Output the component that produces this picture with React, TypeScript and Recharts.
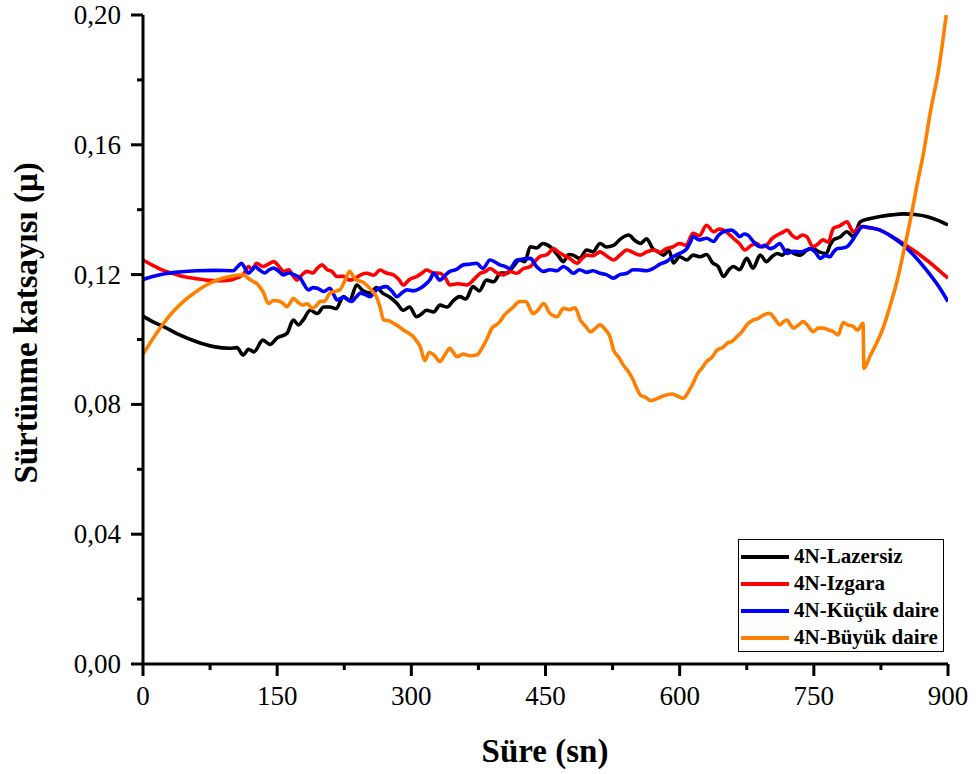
import React from 'react';
import { LineChart, Line, XAxis, YAxis, Legend } from 'recharts';

// time (sn) / friction coefficient pairs
const lazersiz: [number, number][] = [
  [0, 0.1072], [10, 0.1056], [23, 0.104], [41, 0.1014], [60, 0.0993], [79, 0.0978], [97, 0.0973], [105, 0.0975],
  [112, 0.0952], [118, 0.097], [124, 0.0962], [134, 0.0998], [142, 0.0985], [150, 0.1005], [161, 0.1019], [168, 0.106],
  [174, 0.1045], [179, 0.106], [187, 0.109], [195, 0.108], [202, 0.11], [209, 0.11], [216, 0.1095], [224, 0.1132],
  [231, 0.112], [239, 0.1168], [246, 0.115], [254, 0.1143], [261, 0.116], [268, 0.1143], [276, 0.113], [284, 0.1111],
  [291, 0.109], [298, 0.11], [306, 0.107], [311, 0.1078], [317, 0.109], [325, 0.1085], [332, 0.1106], [340, 0.11],
  [347, 0.112], [354, 0.1132], [361, 0.1125], [369, 0.1163], [376, 0.115], [384, 0.1183], [392, 0.1178], [400, 0.1205],
  [407, 0.1204], [414, 0.1225], [421, 0.1245], [427, 0.124], [433, 0.1286], [440, 0.1282], [447, 0.1296], [453, 0.129],
  [459, 0.1276], [465, 0.1255], [470, 0.124], [476, 0.1262], [481, 0.126], [488, 0.125], [496, 0.1276], [503, 0.127],
  [511, 0.1296], [518, 0.1285], [526, 0.129], [534, 0.131], [543, 0.1322], [550, 0.1305], [556, 0.1296], [563, 0.131],
  [570, 0.128], [576, 0.127], [582, 0.126], [588, 0.1275], [593, 0.1236], [600, 0.1255], [608, 0.1245], [615, 0.126],
  [623, 0.1255], [630, 0.1262], [637, 0.1236], [643, 0.1225], [649, 0.1194], [655, 0.1215], [660, 0.1225], [667, 0.1215],
  [675, 0.125], [682, 0.122], [690, 0.126], [697, 0.124], [703, 0.1255], [709, 0.1265], [715, 0.126], [720, 0.1276],
  [728, 0.1265], [735, 0.126], [742, 0.1275], [749, 0.128], [756, 0.127], [764, 0.1265], [768, 0.129], [772, 0.1307],
  [779, 0.1315], [787, 0.1332], [794, 0.1317], [802, 0.1363], [812, 0.1372], [824, 0.1379], [837, 0.1384], [850, 0.1387],
  [863, 0.1385], [876, 0.1379], [888, 0.1368], [900, 0.1353],
];

const izgara: [number, number][] = [
  [0, 0.1245], [10, 0.123], [22, 0.1214], [34, 0.1203], [45, 0.1194], [58, 0.1188], [71, 0.1183], [84, 0.1181],
  [97, 0.1183], [105, 0.119], [112, 0.12], [118, 0.1225], [122, 0.1215], [127, 0.1235], [134, 0.1225], [140, 0.1232],
  [146, 0.124], [152, 0.1225], [157, 0.121], [163, 0.1215], [168, 0.1195], [172, 0.1183], [178, 0.12], [183, 0.121],
  [190, 0.1205], [195, 0.122], [200, 0.123], [206, 0.1215], [211, 0.121], [217, 0.1194], [224, 0.1195], [231, 0.1183],
  [238, 0.119], [244, 0.12], [250, 0.1204], [258, 0.1198], [265, 0.1214], [272, 0.1205], [280, 0.1199], [286, 0.1185],
  [291, 0.1168], [298, 0.1185], [306, 0.1194], [312, 0.1205], [317, 0.1214], [325, 0.1205], [332, 0.1204], [338, 0.119],
  [343, 0.1168], [352, 0.1172], [362, 0.1168], [370, 0.1185], [377, 0.1204], [383, 0.121], [388, 0.1219], [396, 0.1205],
  [403, 0.1199], [410, 0.121], [418, 0.1204], [425, 0.1218], [433, 0.1225], [438, 0.124], [444, 0.1256], [452, 0.1262],
  [459, 0.128], [465, 0.1268], [470, 0.126], [478, 0.1248], [485, 0.1235], [491, 0.125], [496, 0.126], [503, 0.1258],
  [511, 0.127], [518, 0.1258], [526, 0.1245], [534, 0.1262], [541, 0.1276], [548, 0.1268], [556, 0.126], [563, 0.127],
  [571, 0.1276], [578, 0.1268], [585, 0.128], [592, 0.1285], [600, 0.1296], [607, 0.129], [615, 0.1327], [622, 0.132],
  [630, 0.1352], [638, 0.1332], [644, 0.134], [649, 0.1337], [655, 0.1325], [660, 0.1312], [667, 0.1295], [673, 0.1276],
  [680, 0.129], [686, 0.1296], [692, 0.1285], [697, 0.129], [703, 0.131], [709, 0.1322], [715, 0.133], [720, 0.1337],
  [726, 0.132], [731, 0.1312], [737, 0.1322], [742, 0.1317], [749, 0.1286], [755, 0.1295], [760, 0.1307], [766, 0.13],
  [772, 0.1343], [779, 0.135], [787, 0.1363], [794, 0.1332], [803, 0.1348], [812, 0.1344], [824, 0.1337], [837, 0.1318],
  [850, 0.1296], [863, 0.1272], [876, 0.1245], [888, 0.1218], [900, 0.1189],
];

const kucukDaire: [number, number][] = [
  [0, 0.1185], [12, 0.1195], [23, 0.1202], [40, 0.1208], [60, 0.1212], [80, 0.1213], [101, 0.1212], [106, 0.1225],
  [110, 0.1235], [114, 0.122], [118, 0.1204], [122, 0.1215], [125, 0.1225], [130, 0.1215], [136, 0.1205], [141, 0.1215],
  [146, 0.122], [152, 0.121], [157, 0.1199], [163, 0.1205], [170, 0.1198], [176, 0.1189], [180, 0.117], [185, 0.1153],
  [190, 0.116], [195, 0.1158], [202, 0.1148], [209, 0.1158], [213, 0.114], [217, 0.1122], [224, 0.113], [228, 0.1125],
  [233, 0.1117], [238, 0.113], [243, 0.1143], [249, 0.1138], [254, 0.1132], [261, 0.1153], [266, 0.116], [272, 0.1163],
  [278, 0.115], [284, 0.1132], [290, 0.1145], [295, 0.1153], [302, 0.115], [310, 0.1158], [317, 0.1173], [321, 0.1185],
  [325, 0.1204], [332, 0.1183], [337, 0.1195], [343, 0.121], [350, 0.1215], [358, 0.123], [365, 0.1232], [373, 0.1235],
  [380, 0.1219], [388, 0.1245], [394, 0.1238], [399, 0.123], [405, 0.1225], [410, 0.1219], [418, 0.1245], [425, 0.1248],
  [433, 0.125], [440, 0.1225], [448, 0.121], [455, 0.1215], [463, 0.1212], [470, 0.1225], [476, 0.1215], [481, 0.1204],
  [488, 0.1215], [496, 0.1207], [503, 0.1212], [511, 0.1204], [518, 0.12], [526, 0.1189], [533, 0.12], [541, 0.1204],
  [548, 0.1215], [556, 0.1214], [563, 0.1212], [571, 0.122], [578, 0.1232], [585, 0.124], [590, 0.125], [596, 0.126],
  [602, 0.1268], [608, 0.128], [612, 0.13], [615, 0.1317], [622, 0.1307], [630, 0.1312], [638, 0.1302], [643, 0.132],
  [649, 0.1332], [658, 0.1337], [663, 0.1328], [667, 0.1317], [672, 0.1325], [676, 0.1322], [683, 0.13], [690, 0.1286],
  [695, 0.129], [701, 0.128], [706, 0.1285], [712, 0.1296], [716, 0.128], [720, 0.1265], [727, 0.1272], [735, 0.127],
  [741, 0.1275], [746, 0.128], [752, 0.1268], [757, 0.125], [763, 0.1258], [768, 0.1255], [772, 0.127], [776, 0.128],
  [782, 0.1282], [787, 0.1286], [793, 0.1305], [798, 0.1327], [805, 0.1348], [812, 0.1345], [824, 0.1337], [837, 0.1317],
  [850, 0.1291], [863, 0.1256], [876, 0.1214], [888, 0.117], [900, 0.1117],
];

const buyukDaire: [number, number][] = [
  [0, 0.0955], [10, 0.0998], [23, 0.105], [34, 0.1087], [45, 0.1117], [58, 0.1145], [71, 0.1168], [84, 0.1184],
  [97, 0.1194], [105, 0.1198], [112, 0.1199], [118, 0.1188], [122, 0.118], [127, 0.1173], [131, 0.116], [135, 0.1143],
  [140, 0.1111], [146, 0.112], [153, 0.1117], [157, 0.111], [161, 0.1101], [165, 0.1115], [168, 0.1127], [173, 0.1115],
  [179, 0.1106], [184, 0.111], [189, 0.1096], [194, 0.1105], [198, 0.1117], [203, 0.1118], [209, 0.1143], [214, 0.1148],
  [220, 0.1153], [226, 0.1183], [231, 0.121], [235, 0.1195], [239, 0.1183], [245, 0.1178], [250, 0.1168], [256, 0.115],
  [261, 0.1132], [265, 0.11], [269, 0.106], [275, 0.1058], [280, 0.105], [286, 0.104], [291, 0.1029], [297, 0.102],
  [302, 0.1009], [306, 0.0995], [310, 0.0978], [315, 0.0935], [320, 0.096], [326, 0.095], [332, 0.0932], [338, 0.0955],
  [343, 0.0973], [347, 0.096], [351, 0.0947], [358, 0.0955], [365, 0.095], [373, 0.0952], [380, 0.0978], [385, 0.1005],
  [390, 0.1035], [395, 0.1045], [399, 0.1055], [404, 0.1075], [408, 0.1086], [414, 0.11], [421, 0.1117], [428, 0.1117],
  [436, 0.108], [442, 0.1092], [448, 0.1111], [455, 0.108], [463, 0.107], [470, 0.1096], [477, 0.1092], [483, 0.1098],
  [489, 0.106], [495, 0.104], [500, 0.1024], [506, 0.1035], [511, 0.1045], [517, 0.103], [522, 0.1009], [526, 0.0968],
  [532, 0.0945], [537, 0.0921], [543, 0.09], [548, 0.0875], [552, 0.085], [556, 0.0829], [563, 0.082], [567, 0.0812],
  [571, 0.0814], [578, 0.0822], [585, 0.0829], [592, 0.0832], [598, 0.0825], [604, 0.0819], [610, 0.084], [615, 0.0865],
  [620, 0.0895], [625, 0.0912], [630, 0.0932], [636, 0.0945], [642, 0.0968], [648, 0.0975], [653, 0.0988], [659, 0.0995],
  [664, 0.1009], [670, 0.1025], [675, 0.1045], [682, 0.106], [688, 0.1065], [694, 0.1076], [701, 0.108], [706, 0.1065],
  [712, 0.1045], [716, 0.1055], [720, 0.106], [724, 0.1045], [727, 0.1035], [733, 0.1045], [738, 0.1055], [744, 0.104],
  [749, 0.1024], [755, 0.1035], [760, 0.1035], [766, 0.103], [772, 0.1024], [777, 0.1014], [783, 0.1052], [788, 0.1045],
  [794, 0.104], [799, 0.1029], [805, 0.105], [806, 0.0911], [813, 0.095], [820, 0.0988], [828, 0.104], [835, 0.1101],
  [843, 0.118], [850, 0.1265], [858, 0.137], [865, 0.1471], [873, 0.158], [880, 0.1697], [890, 0.184], [898, 0.2],
];

const xTicks = [0, 75, 150, 225, 300, 375, 450, 525, 600, 675, 750, 825, 900];
const yTicks = [0, 0.02, 0.04, 0.06, 0.08, 0.1, 0.12, 0.14, 0.16, 0.18, 0.2];

const series = [
  { name: '4N-Lazersiz', color: '#000000', data: lazersiz },
  { name: '4N-Izgara', color: '#ff0000', data: izgara },
  { name: '4N-Küçük daire', color: '#0000ff', data: kucukDaire },
  { name: '4N-Büyük daire', color: '#ff8000', data: buyukDaire },
];

const FONT = "'Liberation Serif', 'Times New Roman', serif";

const toPoints = (arr: [number, number][]) => arr.map(([t, v]) => ({ t, v }));

const XTick = (props: any) => {
  const { x, y, payload } = props;
  const major = payload.value % 150 === 0;
  return (
    <g>
      <line x1={x} x2={x} y1={y} y2={y + (major ? 12 : 6)} stroke="#000" strokeWidth={3} />
      {major && (
        <text x={x} y={y + 41} textAnchor="middle" fontSize={27} fontFamily={FONT} fill="#000">
          {payload.value}
        </text>
      )}
    </g>
  );
};

const YTick = (props: any) => {
  const { x, y, payload } = props;
  const major = Math.round(payload.value * 100) % 4 === 0;
  return (
    <g>
      <line x1={x - (major ? 12 : 6)} x2={x} y1={y} y2={y} stroke="#000" strokeWidth={3} />
      {major && (
        <text x={x - 22} y={y + 9} textAnchor="end" fontSize={27} fontFamily={FONT} fill="#000">
          {payload.value.toFixed(2).replace('.', ',')}
        </text>
      )}
    </g>
  );
};

const renderLegend = () => (
  <div
    style={{
      border: '1.5px solid #000',
      width: 206,
      height: 113,
      boxSizing: 'border-box',
      background: '#fff',
      paddingTop: 3,
      paddingLeft: 2,
    }}
  >
    {series.map((s) => (
      <div key={s.name} style={{ display: 'flex', alignItems: 'center', height: 27 }}>
        <div style={{ width: 48, height: 4, background: s.color, marginRight: 5 }} />
        <span style={{ fontFamily: FONT, fontWeight: 'bold', fontSize: 21, color: '#000', lineHeight: '27px' }}>
          {s.name}
        </span>
      </div>
    ))}
  </div>
);

const App = () => {
  return (
    <div style={{ position: 'absolute', left: 0, top: 0, width: 976, height: 774, background: '#fff' }}>
      <LineChart width={976} height={774} margin={{ top: 15, right: 28, bottom: 0, left: 0 }}>
        <XAxis
          type="number"
          dataKey="t"
          domain={[0, 900]}
          ticks={xTicks}
          interval={0}
          allowDataOverflow
          height={110}
          tickSize={0}
          tickMargin={0}
          tickLine={false}
          tick={<XTick />}
          axisLine={{ stroke: '#000', strokeWidth: 3 }}
          label={() => (
            <text x={545} y={762} textAnchor="middle" fontSize={33} fontWeight="bold" fontFamily={FONT} fill="#000">
              Süre (sn)
            </text>
          )}
        />
        <YAxis
          type="number"
          domain={[0, 0.2]}
          ticks={yTicks}
          interval={0}
          allowDataOverflow
          width={143}
          tickSize={0}
          tickMargin={0}
          tickLine={false}
          tick={<YTick />}
          axisLine={{ stroke: '#000', strokeWidth: 3 }}
          label={() => (
            <text
              transform="translate(37,323) rotate(-90)"
              textAnchor="middle"
              fontSize={33}
              fontWeight="bold"
              fontFamily={FONT}
              fill="#000"
            >
              Sürtünme katsayısı (μ)
            </text>
          )}
        />
        <Legend
          layout="vertical"
          align="center"
          verticalAlign="middle"
          content={renderLegend}
          wrapperStyle={{ left: 738, top: 539, width: 206, height: 113 }}
        />
        {series.map((s) => (
          <Line
            key={s.name}
            data={toPoints(s.data)}
            dataKey="v"
            name={s.name}
            type="monotone"
            stroke={s.color}
            strokeWidth={3.6}
            dot={false}
            activeDot={false}
            isAnimationActive={false}
          />
        ))}
      </LineChart>
    </div>
  );
};

export default App;
